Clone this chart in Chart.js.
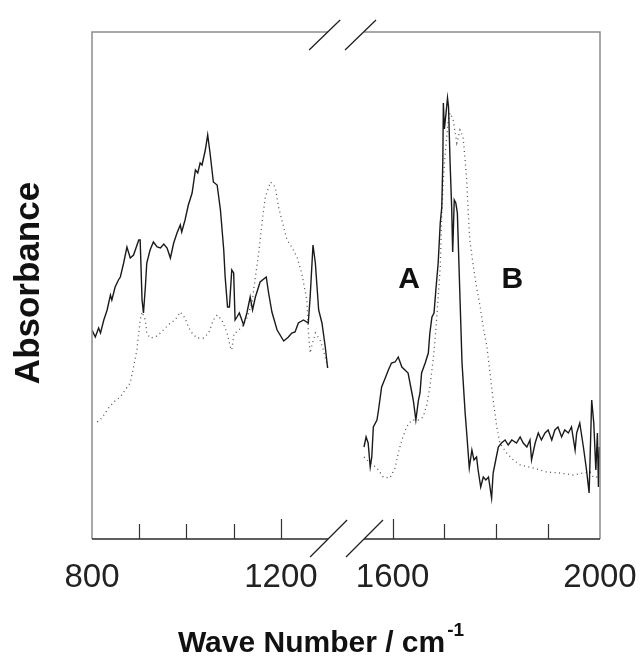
<!DOCTYPE html>
<html><head><meta charset="utf-8">
<script src="https://cdn.jsdelivr.net/npm/chart.js@4/dist/chart.umd.min.js"></script>
<style>html,body{margin:0;padding:0;background:#fff;}#wrap{width:642px;height:659px;position:relative;}</style>
</head><body><div id="wrap"><canvas id="c" width="642" height="659"></canvas></div>
<script>
// ---- data (wave number in cm^-1, absorbance in arbitrary units) ----
const lowSolidX = [800,807,814,818,825,832,839,842,849,856,860,867,874,881,888,899,902,906,909,913,916,923,930,938,945,952,959,966,973,980,987,990,997,1004,1012,1019,1024,1029,1033,1040,1045,1050,1057,1065,1072,1079,1082,1087,1091,1096,1100,1103,1107,1112,1121,1128,1135,1140,1146,1156,1169,1174,1181,1192,1206,1216,1223,1230,1237,1248,1258,1262,1268,1273,1280,1287,1294,1299];
const lowSolidY = [209,202,211,206,219,229,244,239,252,259,262,276,292,281,284,299,299,239,226,252,276,289,297,292,291,295,291,281,296,306,314,307,319,334,346,369,366,376,374,389,404,386,357,354,329,289,262,232,232,269,266,219,222,226,214,226,242,229,242,257,262,246,227,209,198,202,206,207,216,219,216,242,294,276,229,216,192,171];
const lowDotX = [811,821,835,846,860,870,881,888,895,899,902,906,913,916,923,934,945,955,966,976,987,997,1004,1012,1022,1036,1047,1057,1065,1075,1086,1093,1096,1101,1107,1117,1128,1139,1146,1153,1160,1167,1178,1188,1195,1202,1213,1223,1234,1244,1255,1258,1262,1266,1273,1283,1290,1299];
const lowDotY = [117,121,131,137,142,149,156,172,189,206,219,227,219,206,201,202,206,211,216,219,227,221,212,206,201,201,206,219,224,219,206,192,189,206,207,212,221,237,262,286,316,342,357,352,332,319,299,292,282,266,239,209,186,194,206,199,189,172];
const highSolidX = [1545,1549,1553,1557,1560,1563,1570,1573,1579,1586,1592,1598,1605,1611,1618,1624,1630,1637,1640,1645,1650,1653,1656,1663,1669,1672,1676,1680,1684,1688,1692,1695,1697,1698,1700,1703,1706,1708,1711,1714,1716,1719,1722,1725,1730,1734,1740,1743,1748,1753,1757,1762,1765,1770,1775,1780,1785,1791,1794,1799,1804,1810,1817,1823,1830,1839,1846,1852,1859,1865,1868,1875,1881,1887,1894,1900,1907,1913,1919,1926,1932,1939,1945,1952,1955,1961,1968,1974,1979,1984,1988,1992,1995,1997,1999];
const highSolidY = [92,102,96,72,82,112,119,129,152,161,169,176,177,182,172,169,166,147,139,119,139,146,166,176,186,206,222,226,252,276,316,332,379,436,410,425,441,432,376,332,287,339,336,326,242,176,126,106,71,89,79,82,69,52,62,59,62,41,66,79,92,96,99,94,99,96,102,96,92,99,79,96,106,99,106,109,99,109,112,102,109,106,112,89,106,116,92,69,46,139,116,69,106,52,92];
const highDotX = [1545,1557,1570,1582,1595,1605,1611,1618,1627,1637,1650,1659,1666,1672,1679,1684,1688,1692,1695,1698,1701,1704,1707,1711,1717,1724,1730,1736,1740,1743,1746,1749,1756,1762,1769,1775,1782,1788,1794,1801,1807,1820,1833,1846,1871,1897,1923,1948,1968,1981,1987,1997];
const highDotY = [82,76,71,62,61,71,86,99,112,119,119,122,134,152,182,212,242,272,326,359,382,399,416,426,419,396,409,402,379,359,326,299,272,252,232,212,192,166,139,112,96,86,79,74,71,67,66,64,66,67,62,62];
// axis
const lowRange = [800, 1300];
const highRange = [1545, 2000];
const lowTicks = [900, 1000, 1100, 1200];
const highTicks = [1600, 1700, 1800, 1900];
const tickLabels = [800, 1200, 1600, 2000];
const peakLabels = ['A', 'B'];
const peakLabelX = [1632, 1831];
const peakLabelY = [251, 251];
const xTitle = 'Wave Number / cm';
const xTitleSup = '-1';
const yTitle = 'Absorbance';

const toPts = (xs, ys) => xs.map((x, i) => ({x: x, y: ys[i]}));
const FONT = '"Liberation Sans", Arial, Helvetica, sans-serif';

const frame = {
  id: 'frame',
  afterDatasetsDraw(chart) {
    const ctx = chart.ctx, a = chart.chartArea;
    const sL = chart.scales.xL, sR = chart.scales.xR, sy = chart.scales.y;
    const gL = sL.getPixelForValue(lowRange[1]);
    const gR = sR.getPixelForValue(highRange[0]);
    ctx.save();
    ctx.lineCap = 'butt';
    // grey frame
    ctx.strokeStyle = '#8c8c8c'; ctx.lineWidth = 1.5;
    ctx.beginPath();
    ctx.moveTo(a.left, a.bottom); ctx.lineTo(a.left, a.top); ctx.lineTo(gL, a.top);
    ctx.moveTo(gR, a.top); ctx.lineTo(a.right, a.top); ctx.lineTo(a.right, a.bottom);
    ctx.stroke();
    // bottom axis
    ctx.strokeStyle = '#2a2a2a'; ctx.lineWidth = 1.3;
    ctx.beginPath();
    ctx.moveTo(a.left, a.bottom); ctx.lineTo(gL, a.bottom);
    ctx.moveTo(gR, a.bottom); ctx.lineTo(a.right, a.bottom);
    ctx.stroke();
    // ticks (inward)
    ctx.lineWidth = 1.2; ctx.strokeStyle = '#333';
    ctx.beginPath();
    lowTicks.forEach(v => {
      const px = Math.round(sL.getPixelForValue(v)) + 0.5;
      const len = tickLabels.includes(v) ? 20 : 15;
      ctx.moveTo(px, a.bottom); ctx.lineTo(px, a.bottom - len);
    });
    highTicks.forEach(v => {
      const px = Math.round(sR.getPixelForValue(v)) + 0.5;
      const len = tickLabels.includes(v) ? 20 : 15;
      ctx.moveTo(px, a.bottom); ctx.lineTo(px, a.bottom - len);
    });
    ctx.stroke();
    // break slashes
    ctx.strokeStyle = '#222'; ctx.lineWidth = 1.3;
    ctx.beginPath();
    [gL, gR].forEach(px => {
      ctx.moveTo(px - 19, a.top + 18); ctx.lineTo(px + 12, a.top - 12);
      ctx.moveTo(px - 18, a.bottom + 18); ctx.lineTo(px + 19, a.bottom - 19);
    });
    ctx.stroke();
    // tick labels
    ctx.fillStyle = '#222';
    ctx.font = '33px ' + FONT;
    ctx.textAlign = 'center'; ctx.textBaseline = 'alphabetic';
    tickLabels.forEach(v => {
      const s = v <= lowRange[1] ? sL : sR;
      ctx.fillText(String(v), s.getPixelForValue(v), a.bottom + 48);
    });
    // peak labels
    ctx.fillStyle = '#111';
    ctx.font = 'bold 30px ' + FONT;
    peakLabels.forEach((t, i) => {
      ctx.fillText(t, sR.getPixelForValue(peakLabelX[i]), sy.getPixelForValue(peakLabelY[i]));
    });
    // x title with superscript
    ctx.font = 'bold 30px ' + FONT;
    const w1 = ctx.measureText(xTitle).width;
    ctx.font = 'bold 19px ' + FONT;
    const w2 = ctx.measureText(xTitleSup).width;
    const x0 = 321 - (w1 + w2 + 2) / 2;
    ctx.textAlign = 'left';
    ctx.font = 'bold 30px ' + FONT;
    ctx.fillText(xTitle, x0, a.bottom + 113);
    ctx.font = 'bold 19px ' + FONT;
    ctx.fillText(xTitleSup, x0 + w1 + 2, a.bottom + 97);
    // y title
    ctx.save();
    ctx.translate(39, 283);
    ctx.rotate(-Math.PI / 2);
    ctx.textAlign = 'center';
    ctx.font = 'bold 35px ' + FONT;
    ctx.fillText(yTitle, 0, 0);
    ctx.restore();
    ctx.restore();
  }
};

new Chart(document.getElementById('c'), {
  type: 'line',
  data: {
    datasets: [
      {label: 'A low', data: toPts(lowSolidX, lowSolidY), xAxisID: 'xL', borderColor: '#1a1a1a', borderWidth: 1.4},
      {label: 'B low', data: toPts(lowDotX, lowDotY), xAxisID: 'xL', borderColor: '#555', borderWidth: 1.3, borderDash: [1, 3.5]},
      {label: 'A high', data: toPts(highSolidX, highSolidY), xAxisID: 'xR', borderColor: '#1a1a1a', borderWidth: 1.4},
      {label: 'B high', data: toPts(highDotX, highDotY), xAxisID: 'xR', borderColor: '#555', borderWidth: 1.3, borderDash: [1, 3.5]}
    ]
  },
  options: {
    responsive: false, animation: false, devicePixelRatio: 1,
    parsing: true,
    elements: {point: {radius: 0}, line: {tension: 0, fill: false}},
    layout: {padding: {left: 92, top: 32, right: 42, bottom: 120}},
    plugins: {legend: {display: false}, tooltip: {enabled: false}},
    scales: {
      xL: {type: 'linear', axis: 'x', position: 'bottom', min: 800, max: 1875.8, display: false},
      xR: {type: 'linear', axis: 'x', position: 'bottom', min: 1020.6, max: 2000, display: false},
      y: {type: 'linear', min: 0, max: 507, display: false}
    }
  },
  plugins: [frame]
});
</script>
</body></html>
